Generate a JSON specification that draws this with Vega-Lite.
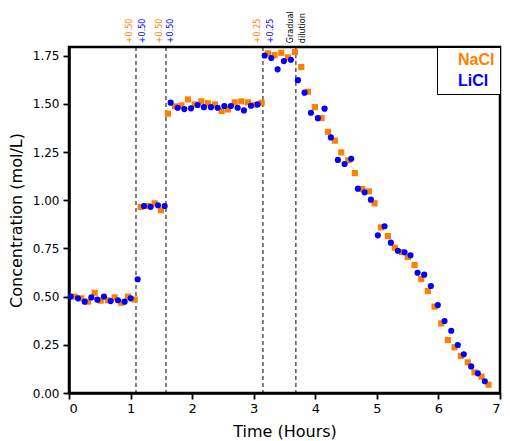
{
  "$schema": "https://vega.github.io/schema/vega-lite/v6.json",
  "width": 431,
  "height": 346,
  "autosize": {"type": "none"},
  "padding": {"left": 69, "top": 47, "right": 10, "bottom": 48},
  "background": "white",
  "config": {
    "font": "DejaVu Sans",
    "view": {"stroke": "black", "strokeWidth": 2.5},
    "axis": {
      "grid": false,
      "domainColor": "black",
      "domainWidth": 2.5,
      "tickColor": "black",
      "tickWidth": 1.8,
      "labelColor": "black",
      "labelFontSize": 12,
      "titleColor": "black",
      "titleFontSize": 16,
      "titleFontWeight": "normal"
    }
  },
  "datasets": {
    "points": [
      {"salt": "NaCl", "t": 0.093, "c": 0.50},
      {"salt": "NaCl", "t": 0.200, "c": 0.491},
      {"salt": "NaCl", "t": 0.309, "c": 0.474},
      {"salt": "NaCl", "t": 0.417, "c": 0.520},
      {"salt": "NaCl", "t": 0.515, "c": 0.479},
      {"salt": "NaCl", "t": 0.633, "c": 0.481},
      {"salt": "NaCl", "t": 0.742, "c": 0.496},
      {"salt": "NaCl", "t": 0.850, "c": 0.468},
      {"salt": "NaCl", "t": 0.958, "c": 0.50},
      {"salt": "NaCl", "t": 1.067, "c": 0.485},
      {"salt": "NaCl", "t": 1.164, "c": 0.965},
      {"salt": "NaCl", "t": 1.283, "c": 0.970},
      {"salt": "NaCl", "t": 1.391, "c": 0.984},
      {"salt": "NaCl", "t": 1.494, "c": 0.948},
      {"salt": "NaCl", "t": 1.607, "c": 1.449},
      {"salt": "NaCl", "t": 1.721, "c": 1.487},
      {"salt": "NaCl", "t": 1.825, "c": 1.492},
      {"salt": "NaCl", "t": 1.932, "c": 1.523},
      {"salt": "NaCl", "t": 2.041, "c": 1.497},
      {"salt": "NaCl", "t": 2.149, "c": 1.513},
      {"salt": "NaCl", "t": 2.257, "c": 1.503},
      {"salt": "NaCl", "t": 2.370, "c": 1.497},
      {"salt": "NaCl", "t": 2.479, "c": 1.463},
      {"salt": "NaCl", "t": 2.581, "c": 1.471},
      {"salt": "NaCl", "t": 2.690, "c": 1.508},
      {"salt": "NaCl", "t": 2.798, "c": 1.513},
      {"salt": "NaCl", "t": 2.906, "c": 1.508},
      {"salt": "NaCl", "t": 3.015, "c": 1.495},
      {"salt": "NaCl", "t": 3.128, "c": 1.506},
      {"salt": "NaCl", "t": 3.231, "c": 1.762},
      {"salt": "NaCl", "t": 3.339, "c": 1.753},
      {"salt": "NaCl", "t": 3.448, "c": 1.765},
      {"salt": "NaCl", "t": 3.555, "c": 1.741},
      {"salt": "NaCl", "t": 3.669, "c": 1.769},
      {"salt": "NaCl", "t": 3.772, "c": 1.691},
      {"salt": "NaCl", "t": 3.880, "c": 1.563},
      {"salt": "NaCl", "t": 3.994, "c": 1.483},
      {"salt": "NaCl", "t": 4.102, "c": 1.426},
      {"salt": "NaCl", "t": 4.205, "c": 1.355},
      {"salt": "NaCl", "t": 4.318, "c": 1.309},
      {"salt": "NaCl", "t": 4.422, "c": 1.248},
      {"salt": "NaCl", "t": 4.536, "c": 1.207},
      {"salt": "NaCl", "t": 4.643, "c": 1.141},
      {"salt": "NaCl", "t": 4.763, "c": 1.058},
      {"salt": "NaCl", "t": 4.870, "c": 1.046},
      {"salt": "NaCl", "t": 4.963, "c": 0.984},
      {"salt": "NaCl", "t": 5.065, "c": 0.859},
      {"salt": "NaCl", "t": 5.179, "c": 0.814},
      {"salt": "NaCl", "t": 5.292, "c": 0.754},
      {"salt": "NaCl", "t": 5.406, "c": 0.731},
      {"salt": "NaCl", "t": 5.503, "c": 0.705},
      {"salt": "NaCl", "t": 5.612, "c": 0.664},
      {"salt": "NaCl", "t": 5.721, "c": 0.591},
      {"salt": "NaCl", "t": 5.828, "c": 0.529},
      {"salt": "NaCl", "t": 5.937, "c": 0.448},
      {"salt": "NaCl", "t": 6.045, "c": 0.361},
      {"salt": "NaCl", "t": 6.153, "c": 0.275},
      {"salt": "NaCl", "t": 6.261, "c": 0.237},
      {"salt": "NaCl", "t": 6.364, "c": 0.192},
      {"salt": "NaCl", "t": 6.477, "c": 0.159},
      {"salt": "NaCl", "t": 6.586, "c": 0.107},
      {"salt": "NaCl", "t": 6.700, "c": 0.085},
      {"salt": "NaCl", "t": 6.813, "c": 0.043},
      {"salt": "LiCl", "t": 0.028, "c": 0.50},
      {"salt": "LiCl", "t": 0.146, "c": 0.491},
      {"salt": "LiCl", "t": 0.255, "c": 0.474},
      {"salt": "LiCl", "t": 0.363, "c": 0.496},
      {"salt": "LiCl", "t": 0.461, "c": 0.484},
      {"salt": "LiCl", "t": 0.568, "c": 0.50},
      {"salt": "LiCl", "t": 0.677, "c": 0.477},
      {"salt": "LiCl", "t": 0.795, "c": 0.481},
      {"salt": "LiCl", "t": 0.904, "c": 0.474},
      {"salt": "LiCl", "t": 1.002, "c": 0.491},
      {"salt": "LiCl", "t": 1.115, "c": 0.590},
      {"salt": "LiCl", "t": 1.218, "c": 0.970},
      {"salt": "LiCl", "t": 1.326, "c": 0.966},
      {"salt": "LiCl", "t": 1.445, "c": 0.974},
      {"salt": "LiCl", "t": 1.554, "c": 0.970},
      {"salt": "LiCl", "t": 1.651, "c": 1.506},
      {"salt": "LiCl", "t": 1.765, "c": 1.480},
      {"salt": "LiCl", "t": 1.873, "c": 1.473},
      {"salt": "LiCl", "t": 1.981, "c": 1.477},
      {"salt": "LiCl", "t": 2.089, "c": 1.494},
      {"salt": "LiCl", "t": 2.192, "c": 1.483},
      {"salt": "LiCl", "t": 2.305, "c": 1.483},
      {"salt": "LiCl", "t": 2.414, "c": 1.480},
      {"salt": "LiCl", "t": 2.523, "c": 1.489},
      {"salt": "LiCl", "t": 2.630, "c": 1.489},
      {"salt": "LiCl", "t": 2.739, "c": 1.480},
      {"salt": "LiCl", "t": 2.841, "c": 1.466},
      {"salt": "LiCl", "t": 2.955, "c": 1.490},
      {"salt": "LiCl", "t": 3.063, "c": 1.497},
      {"salt": "LiCl", "t": 3.177, "c": 1.751},
      {"salt": "LiCl", "t": 3.286, "c": 1.738},
      {"salt": "LiCl", "t": 3.388, "c": 1.679},
      {"salt": "LiCl", "t": 3.490, "c": 1.722},
      {"salt": "LiCl", "t": 3.604, "c": 1.729},
      {"salt": "LiCl", "t": 3.718, "c": 1.623},
      {"salt": "LiCl", "t": 3.826, "c": 1.558},
      {"salt": "LiCl", "t": 3.929, "c": 1.454},
      {"salt": "LiCl", "t": 4.042, "c": 1.426},
      {"salt": "LiCl", "t": 4.151, "c": 1.475},
      {"salt": "LiCl", "t": 4.253, "c": 1.326},
      {"salt": "LiCl", "t": 4.367, "c": 1.209},
      {"salt": "LiCl", "t": 4.476, "c": 1.188},
      {"salt": "LiCl", "t": 4.584, "c": 1.215},
      {"salt": "LiCl", "t": 4.692, "c": 1.060},
      {"salt": "LiCl", "t": 4.800, "c": 1.041},
      {"salt": "LiCl", "t": 4.903, "c": 1.003},
      {"salt": "LiCl", "t": 5.016, "c": 0.818},
      {"salt": "LiCl", "t": 5.125, "c": 0.865},
      {"salt": "LiCl", "t": 5.227, "c": 0.780},
      {"salt": "LiCl", "t": 5.341, "c": 0.738},
      {"salt": "LiCl", "t": 5.450, "c": 0.730},
      {"salt": "LiCl", "t": 5.547, "c": 0.714},
      {"salt": "LiCl", "t": 5.661, "c": 0.624},
      {"salt": "LiCl", "t": 5.769, "c": 0.614},
      {"salt": "LiCl", "t": 5.877, "c": 0.555},
      {"salt": "LiCl", "t": 5.990, "c": 0.456},
      {"salt": "LiCl", "t": 6.099, "c": 0.373},
      {"salt": "LiCl", "t": 6.208, "c": 0.323},
      {"salt": "LiCl", "t": 6.315, "c": 0.249},
      {"salt": "LiCl", "t": 6.412, "c": 0.201},
      {"salt": "LiCl", "t": 6.532, "c": 0.138},
      {"salt": "LiCl", "t": 6.640, "c": 0.102},
      {"salt": "LiCl", "t": 6.753, "c": 0.061}
    ],
    "steps": [
      {"t": 1.088},
      {"t": 1.575},
      {"t": 3.150},
      {"t": 3.685}
    ],
    "notes": [
      {"t": 0.997, "c": 1.815, "label": "+0.50", "salt": "NaCl"},
      {"t": 1.201, "c": 1.815, "label": "+0.50", "salt": "LiCl"},
      {"t": 1.472, "c": 1.815, "label": "+0.50", "salt": "NaCl"},
      {"t": 1.662, "c": 1.815, "label": "+0.50", "salt": "LiCl"},
      {"t": 3.075, "c": 1.815, "label": "+0.25", "salt": "NaCl"},
      {"t": 3.274, "c": 1.815, "label": "+0.25", "salt": "LiCl"},
      {"t": 3.610, "c": 1.815, "label": "Gradual", "salt": "note"},
      {"t": 3.800, "c": 1.815, "label": "dilution", "salt": "note"}
    ]
  },
  "layer": [
    {
      "data": {"name": "steps"},
      "mark": {"type": "rule", "color": "black", "strokeWidth": 1, "strokeDash": [4, 3]},
      "encoding": {
        "x": {"field": "t", "type": "quantitative", "scale": {"domain": [0, 7], "nice": false}}
      }
    },
    {
      "data": {"name": "points"},
      "mark": {"type": "point", "filled": true, "opacity": 1, "size": 38},
      "encoding": {
        "x": {
          "field": "t",
          "type": "quantitative",
          "title": "Time (Hours)",
          "scale": {"domain": [0, 7], "nice": false},
          "axis": {
            "values": [0, 0.5, 1, 1.5, 2, 2.5, 3, 3.5, 4, 4.5, 5, 5.5, 6, 6.5, 7],
            "labelExpr": "round(datum.value) == datum.value ? format(datum.value, 'd') : ''",
            "tickSize": {"condition": {"test": "round(datum.value) == datum.value", "value": 6}, "value": 3},
            "labelPadding": 3,
            "titlePadding": 8,
            "labelFontSize": 13
          }
        },
        "y": {
          "field": "c",
          "type": "quantitative",
          "title": "Concentration (mol/L)",
          "scale": {"domain": [0, 1.795], "nice": false, "zero": false},
          "axis": {
            "values": [0, 0.125, 0.25, 0.375, 0.5, 0.625, 0.75, 0.875, 1, 1.125, 1.25, 1.375, 1.5, 1.625, 1.75],
            "labelExpr": "round(datum.value * 4) == datum.value * 4 ? format(datum.value, '.2f') : ''",
            "tickSize": {"condition": {"test": "round(datum.value * 4) == datum.value * 4", "value": 6}, "value": 3},
            "labelPadding": 4,
            "titlePadding": 8
          }
        },
        "color": {
          "field": "salt",
          "type": "nominal",
          "scale": {"domain": ["NaCl", "LiCl"], "range": ["#FF8000", "#0000FF"]},
          "legend": {
            "title": null,
            "orient": "top-right",
            "offset": 0,
            "strokeColor": "black",
            "fillColor": "white",
            "padding": 5,
            "labelFont": "Liberation Sans",
            "labelFontSize": 16,
            "labelFontWeight": "bold",
            "labelOffset": 0.01,
            "symbolSize": 1,
            "symbolStrokeWidth": 0,
            "symbolOpacity": 0,
            "rowPadding": 5,
            "encode": {
              "labels": {
                "update": {"fill": {"signal": "datum.value === 'NaCl' ? '#FF8000' : '#0000FF'"}}
              }
            }
          }
        },
        "shape": {
          "field": "salt",
          "type": "nominal",
          "scale": {"domain": ["NaCl", "LiCl"], "range": ["square", "circle"]},
          "legend": null
        }
      }
    },
    {
      "data": {"name": "notes"},
      "mark": {"type": "text", "angle": 270, "align": "left", "baseline": "middle", "fontSize": 8, "clip": false},
      "encoding": {
        "x": {"field": "t", "type": "quantitative", "scale": {"domain": [0, 7], "nice": false}},
        "y": {"field": "c", "type": "quantitative", "scale": {"domain": [0, 1.795], "nice": false}},
        "text": {"field": "label"},
        "color": {
          "field": "salt",
          "type": "nominal",
          "scale": {"domain": ["NaCl", "LiCl", "note"], "range": ["#FF8000", "#0000FF", "black"]},
          "legend": null
        }
      }
    }
  ],
  "resolve": {"scale": {"color": "independent"}}
}
